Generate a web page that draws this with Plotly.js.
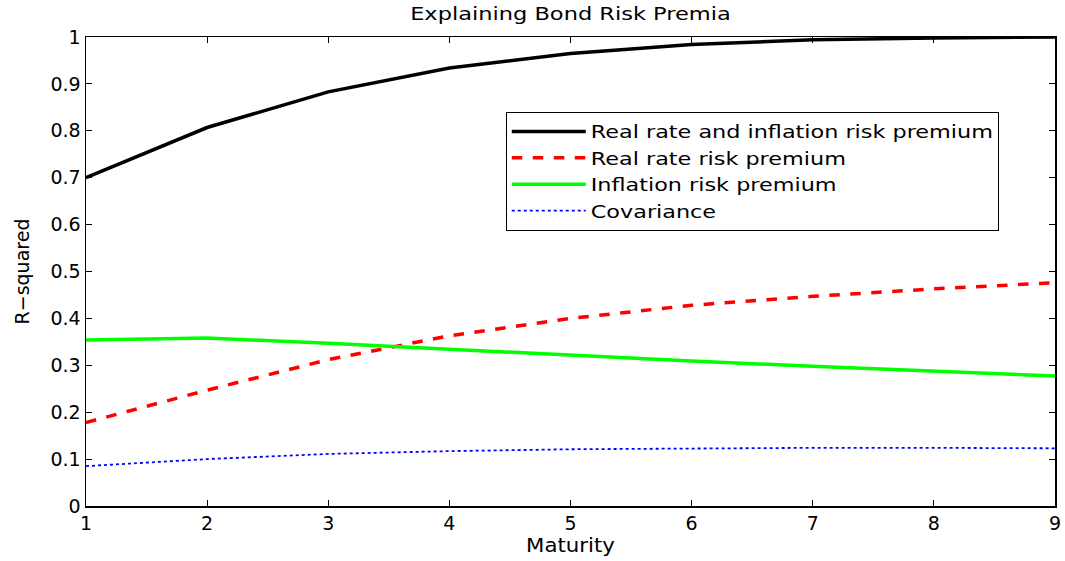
<!DOCTYPE html>
<html>
<head>
<meta charset="utf-8">
<script src="https://cdn.plot.ly/plotly-3.0.1.min.js"></script>
<style>html,body{margin:0;padding:0;background:#fff;}#chart{width:1065px;height:561px;}</style>
</head>
<body>
<div id="chart"></div>
<script>
var maturity = [1, 2, 3, 4, 5, 6, 7, 8, 9];
var realAndInflation = [0.700, 0.807, 0.883, 0.934, 0.965, 0.984, 0.994, 0.998, 1.000];
var realRate = [0.178, 0.247, 0.312, 0.363, 0.400, 0.428, 0.447, 0.463, 0.476];
var inflation = [0.354, 0.358, 0.347, 0.334, 0.321, 0.309, 0.298, 0.287, 0.277];
var covariance = [0.085, 0.100, 0.111, 0.117, 0.121, 0.123, 0.124, 0.124, 0.123];
var seriesNames = ["Real rate and inflation risk premium", "Real rate risk premium", "Inflation risk premium", "Covariance"];
var xTicks = [1, 2, 3, 4, 5, 6, 7, 8, 9];
var yTicks = [0, 0.1, 0.2, 0.3, 0.4, 0.5, 0.6, 0.7, 0.8, 0.9, 1];
var yTickText = ["0", "0.1", "0.2", "0.3", "0.4", "0.5", "0.6", "0.7", "0.8", "0.9", "1"];

var font = "DejaVu Sans, Liberation Sans, Arial, sans-serif";
var traces = [
  {x: maturity, y: realAndInflation, name: seriesNames[0], mode: "lines", line: {color: "#000000", width: 3.5}},
  {x: maturity, y: realRate, name: seriesNames[1], mode: "lines", line: {color: "#ff0000", width: 3.5, dash: "dash"}},
  {x: maturity, y: inflation, name: seriesNames[2], mode: "lines", line: {color: "#00ff00", width: 3.5}},
  {x: maturity, y: covariance, name: seriesNames[3], mode: "lines", line: {color: "#0000ff", width: 1.8, dash: "dot"}}
];
var layout = {
  width: 1065, height: 561,
  margin: {l: 86, r: 10, t: 37, b: 55},
  paper_bgcolor: "#ffffff", plot_bgcolor: "#ffffff",
  font: {family: font, size: 19, color: "#000000"},
  title: {text: "Explaining Bond Risk Premia", font: {family: font, size: 18, color: "#000"}, xref: "paper", x: 0.5, xanchor: "center", y: 0.975, yanchor: "middle"},
  showlegend: true,
  legend: {x: 0.433, y: 0.84, xanchor: "left", yanchor: "top", bgcolor: "#ffffff", bordercolor: "#000000", borderwidth: 1.2, font: {family: font, size: 18}, tracegroupgap: 0, itemwidth: 74},
  xaxis: {
    range: [1, 9], tickvals: xTicks, ticktext: xTicks.map(String), ticks: "inside", ticklen: 6, tickcolor: "#000",
    showline: true, linecolor: "#000", linewidth: 1.5, mirror: "ticks", showgrid: false, zeroline: false,
    tickfont: {family: font, size: 19}, title: {text: "Maturity", font: {family: font, size: 19}, standoff: 1}
  },
  yaxis: {
    range: [0, 1], tickvals: yTicks, ticktext: yTickText, ticks: "inside", ticklen: 6, tickcolor: "#000",
    showline: true, linecolor: "#000", linewidth: 1.5, mirror: "ticks", showgrid: false, zeroline: false,
    tickfont: {family: font, size: 19}, title: {text: "R\u2212squared", font: {family: font, size: 19}, standoff: 16}
  }
};

function widen(el, factor) {
  var w = el.getComputedTextLength();
  el.setAttribute("lengthAdjust", "spacingAndGlyphs");
  el.setAttribute("textLength", (w * factor).toFixed(1));
  return w * factor - w;
}

Plotly.newPlot("chart", traces, layout, {staticPlot: true, displayModeBar: false}).then(function (gd) {
  var extra = 0;
  gd.querySelectorAll(".legend .legendtext").forEach(function (t) {
    extra = Math.max(extra, widen(t, 1.24));
  });
  var bg = gd.querySelector(".legend rect.bg");
  if (bg) bg.setAttribute("width", (parseFloat(bg.getAttribute("width")) + extra).toFixed(1));
  gd.querySelectorAll("clipPath[id^='legend'] rect").forEach(function (r) {
    r.setAttribute("width", (parseFloat(r.getAttribute("width")) + extra).toFixed(1));
  });
  var tt = gd.querySelector(".gtitle");
  if (tt) widen(tt, 1.25);
  var xt = gd.querySelector(".xtitle");
  if (xt) widen(xt, 1.12);
});
</script>
</body>
</html>
